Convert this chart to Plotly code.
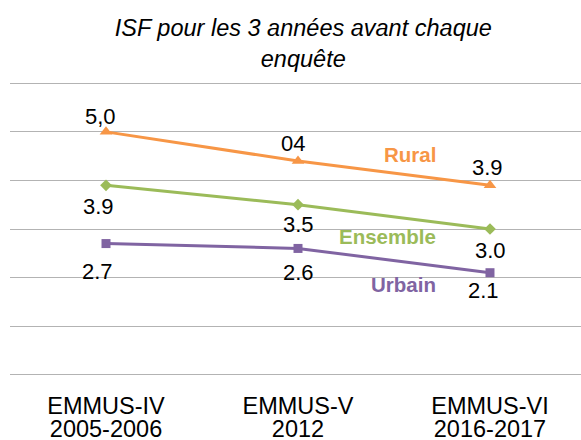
import plotly.graph_objects as go

surveys = ["EMMUS-IV", "EMMUS-V", "EMMUS-VI"]
years = ["2005-2006", "2012", "2016-2017"]

rural = [5.0, 4.4, 3.9]
ensemble = [3.9, 3.5, 3.0]
urbain = [2.7, 2.6, 2.1]

rural_labels = ["5,0", "04", "3.9"]
ensemble_labels = ["3.9", "3.5", "3.0"]
urbain_labels = ["2.7", "2.6", "2.1"]

title_text = "ISF pour les 3 années avant chaque<br>enquête"

FONT = "Liberation Sans, Arial, sans-serif"
ORANGE = "#F79646"
GREEN = "#9BBB59"
PURPLE = "#8064A2"

fig = go.Figure()

series = [
    ("Rural", rural, ORANGE, "triangle-up", 11),
    ("Ensemble", ensemble, GREEN, "diamond", 9),
    ("Urbain", urbain, PURPLE, "square", 9),
]
for name, vals, col, sym, msize in series:
    fig.add_trace(go.Scatter(
        x=surveys, y=vals, name=name, mode="lines+markers",
        line=dict(color=col, width=3),
        marker=dict(symbol=sym, size=msize, color=col),
        showlegend=False, hoverinfo="x+y",
    ))

# invisible trace carrying the second tick-label row (years)
fig.add_trace(go.Scatter(
    x=surveys, y=ensemble, xaxis="x2", mode="markers",
    marker=dict(opacity=0), showlegend=False, hoverinfo="skip",
))

# data labels: offsets (px) are styling only
offsets = {
    "rural": [(-6, 15), (-5, 18), (-2, 18)],
    "ensemble": [(-8, -21), (0, -20), (1, -21)],
    "urbain": [(-9, -28), (0, -24), (-6, -18)],
}
for key, vals, labels in [("rural", rural, rural_labels),
                          ("ensemble", ensemble, ensemble_labels),
                          ("urbain", urbain, urbain_labels)]:
    for cat, v, lab, (dx, dy) in zip(surveys, vals, labels, offsets[key]):
        fig.add_annotation(
            x=cat, y=v, text=lab, showarrow=False,
            xshift=dx, yshift=dy,
            font=dict(family=FONT, size=22, color="#000000"),
        )

# series name labels
name_pos = [("Rural", ORANGE, 4.54), ("Ensemble", GREEN, 2.84), ("Urbain", PURPLE, 1.85)]
for name, col, ypos in name_pos:
    fig.add_annotation(
        x=1.73, y=ypos, xref="x", yref="y", text="<b>%s</b>" % name,
        showarrow=False, xanchor="right", yanchor="middle",
        font=dict(family=FONT, size=20.5, color=col),
    )

xrange = [-0.5, 2.474]
fig.update_layout(
    width=581, height=440,
    margin=dict(l=10, r=0, t=76, b=58, autoexpand=False),
    paper_bgcolor="white", plot_bgcolor="white",
    title=dict(
        text=title_text, x=0.522, xref="container", xanchor="center",
        y=0.918, yref="container", yanchor="top", automargin=False,
        font=dict(family=FONT, size=23.5, color="#000000", style="italic"),
    ),
    xaxis=dict(
        type="category", categoryarray=surveys, range=xrange,
        showgrid=False, zeroline=False, showline=False, ticks="",
        tickfont=dict(family=FONT, size=23.5, color="#000000"),
        ticklabelstandoff=7, automargin=False,
    ),
    xaxis2=dict(
        type="category", categoryarray=surveys, range=xrange,
        overlaying="x", anchor="y", side="bottom",
        tickmode="array", tickvals=surveys, ticktext=years,
        showgrid=False, zeroline=False, showline=False, ticks="",
        tickfont=dict(family=FONT, size=23.5, color="#000000"),
        ticklabelstandoff=30, automargin=False,
    ),
    yaxis=dict(
        range=[-0.15, 6.15], dtick=1, tick0=0, showticklabels=False,
        showgrid=True, gridcolor="#B3B3B3", gridwidth=1.3,
        zeroline=False, showline=False, ticks="", automargin=False,
    ),
)

fig.write_html("out.html", config={"displayModeBar": False},
               post_script="document.body.style.margin='0px';")
